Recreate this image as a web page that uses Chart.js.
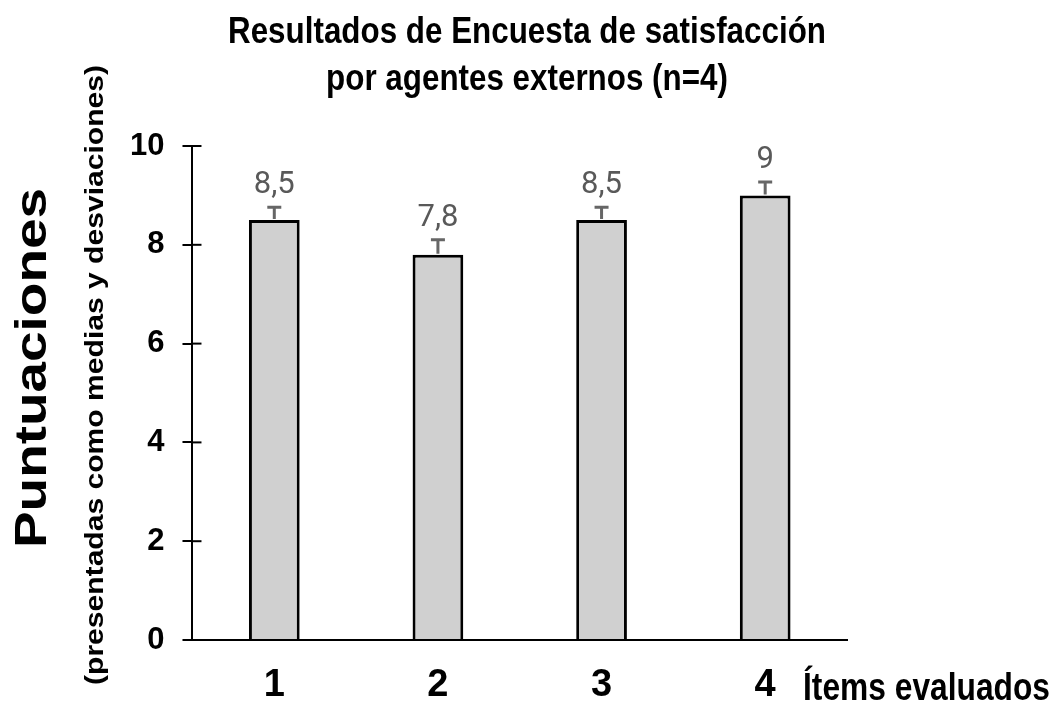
<!DOCTYPE html>
<html>
<head>
<meta charset="utf-8">
<script src="https://cdn.jsdelivr.net/npm/chart.js@4"></script>
<style>
  html, body { margin: 0; padding: 0; background: #fff; }
  #wrap { width: 1058px; height: 703px; position: relative; }
</style>
</head>
<body>
<div id="wrap"><canvas id="satisfactionChart"></canvas></div>
<script>
const items = ['1', '2', '3', '4'];
const means = [8.5, 7.8, 8.5, 9];
const deviations = [0.26, 0.3, 0.26, 0.27];
const yTicks = [0, 2, 4, 6, 8, 10];
const titleLines = ['Resultados de Encuesta de satisfacción', 'por agentes externos (n=4)'];

const wide = "'Liberation Sans', Arial, sans-serif";

// text squeezed sideways to look like a narrow face
function drawNarrow(ctx, text, font, x, y, align, squeeze) {
  ctx.save();
  ctx.font = font;
  ctx.fillStyle = '#000';
  ctx.textAlign = align;
  ctx.textBaseline = 'alphabetic';
  ctx.translate(x, y);
  ctx.scale(squeeze, 1);
  ctx.fillText(text, 0, 0);
  ctx.restore();
}

function drawVertical(ctx, text, font, bx, cy, length) {
  ctx.save();
  ctx.font = font;
  ctx.fillStyle = '#000';
  ctx.textAlign = 'center';
  ctx.textBaseline = 'alphabetic';
  const w = ctx.measureText(text).width;
  ctx.translate(bx, cy);
  ctx.rotate(-Math.PI / 2);
  ctx.scale(length / w, 1);
  ctx.fillText(text, 0, 0);
  ctx.restore();
}

// error bars, value labels, inner half of the y ticks and the extra titles
const extras = {
  id: 'extras',
  afterDatasetsDraw(chart) {
    const ctx = chart.ctx;
    const y = chart.scales.y;
    const meta = chart.getDatasetMeta(0);
    ctx.save();
    meta.data.forEach((bar, i) => {
      const top = y.getPixelForValue(means[i] + deviations[i]);
      ctx.strokeStyle = '#666666';
      ctx.lineWidth = 3;
      ctx.beginPath();
      ctx.moveTo(bar.x, bar.y - 1);
      ctx.lineTo(bar.x, top);
      ctx.moveTo(bar.x - 7, top);
      ctx.lineTo(bar.x + 7, top);
      ctx.stroke();

      ctx.fillStyle = '#595959';
      ctx.font = "31px Roboto, 'Liberation Sans', sans-serif";
      ctx.textAlign = 'center';
      ctx.textBaseline = 'alphabetic';
      ctx.fillText(String(means[i]).replace('.', ','), bar.x, top - 14);
    });
    ctx.restore();
  },
  afterDraw(chart) {
    const ctx = chart.ctx;
    const y = chart.scales.y;
    const area = chart.chartArea;
    ctx.save();
    ctx.strokeStyle = '#000';
    ctx.lineWidth = 2;
    yTicks.slice(1).forEach(v => {
      const py = y.getPixelForValue(v);
      ctx.beginPath();
      ctx.moveTo(area.left, py);
      ctx.lineTo(area.left + 9, py);
      ctx.stroke();
    });
    ctx.restore();

    const titleFont = 'bold 36px ' + wide;
    ctx.save();
    ctx.font = titleFont;
    const squeeze = 598 / ctx.measureText(titleLines[0]).width;
    ctx.restore();
    drawNarrow(ctx, titleLines[0], titleFont, 527, 43, 'center', squeeze);
    drawNarrow(ctx, titleLines[1], titleFont, 527, 90, 'center', squeeze);

    const itemsFont = 'bold 38px ' + wide;
    ctx.save();
    ctx.font = itemsFont;
    const sq2 = 247 / ctx.measureText('Ítems evaluados').width;
    ctx.restore();
    drawNarrow(ctx, 'Ítems evaluados', itemsFont, area.right - 44, 700, 'left', sq2);

    drawVertical(ctx, 'Puntuaciones', 'bold 45px ' + wide, 46, 368, 360);
    drawVertical(ctx, '(presentadas como medias y desviaciones)', 'bold 25px ' + wide, 103, 375, 620);
  }
};

const chart = new Chart(document.getElementById('satisfactionChart'), {
  type: 'bar',
  data: {
    labels: items,
    datasets: [{
      data: means,
      backgroundColor: '#d0d0d0',
      borderColor: '#000',
      borderWidth: 3,
      barPercentage: 0.31,
      categoryPercentage: 1
    }]
  },
  options: {
    responsive: true,
    maintainAspectRatio: false,
    animation: false,
    layout: {
      padding: { left: 112, right: 211, top: 146, bottom: -29 }
    },
    plugins: {
      legend: { display: false },
      tooltip: { enabled: false },
      title: { display: false }
    },
    scales: {
      x: {
        grid: { display: false, drawTicks: false },
        border: { color: '#000', width: 2 },
        ticks: {
          color: '#000',
          padding: 27,
          font: { family: wide, size: 38, weight: 'bold', lineHeight: 1 }
        }
      },
      y: {
        min: 0,
        max: 10,
        grid: { drawOnChartArea: false, color: '#000', lineWidth: 2, tickLength: 10 },
        border: { color: '#000', width: 2 },
        ticks: {
          stepSize: 2,
          color: '#000',
          padding: 18,
          font: { family: wide, size: 31, weight: 'bold' }
        }
      }
    }
  },
  plugins: [extras]
});
</script>
</body>
</html>
